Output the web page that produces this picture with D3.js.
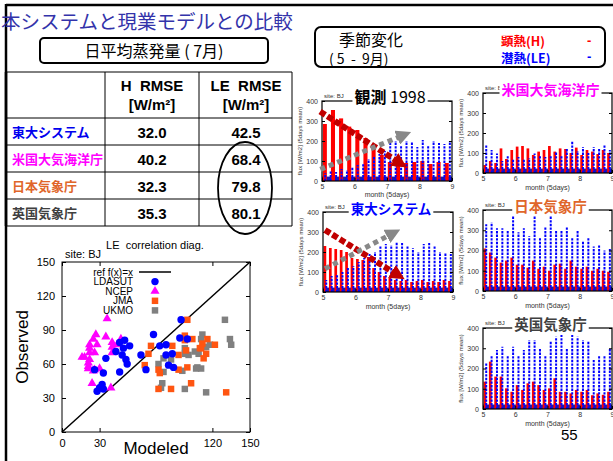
<!DOCTYPE html>
<html>
<head>
<meta charset="utf-8">
<script src="https://cdn.jsdelivr.net/npm/d3@7"></script>
<style>
  body { margin: 0; background: #fff; }
  svg { display: block; }
  text { font-family: "Liberation Sans", Arial, sans-serif; white-space: pre; }
  .jp { font-family: "Noto Sans CJK JP", sans-serif; }
</style>
</head>
<body>
<div class="content"></div>
<script>
// ---- table data ----
const models = ["東大システム", "米国大気海洋庁", "日本気象庁", "英国気象庁"];
const modelColors = ["#0000ee", "#ff00ff", "#e0662a", "#404040"];
const hRmse = [32.0, 40.2, 32.3, 35.3];
const leRmse = [42.5, 68.4, 79.8, 80.1];

// ---- LE correlation diag. (Modeled, Observed) ----
const ldasut = [[95,99],[100,82],[73,86],[78,76],[83,77],[83,68],[88,69],[63,68],[67,55],[85,59],[89,57],[94,83],
  [46,79],[50,81],[54,76],[49,74],[43,71],[48,68],[51,64],[52,60],[46,53],[35,65],[26,55],[33,52],[32,42],[30,39],[33,38],[28,36]];
const ncep = [[36,100],[27,86],[35,84],[25,82],[40,79],[22,77],[28,77],[22,74],[26,70],[22,70],[18,66],[16,66],[22,64],
  [21,61],[21,58],[21,56],[26,55],[25,54],[30,56],[40,70],[40,75],[44,77],[24,43],[39,39],[47,82]];
const jma = [[100,99],[98,85],[104,82],[98,81],[116,82],[122,77],[112,78],[111,74],[115,69],[113,65],[110,74],[71,76],
  [69,69],[66,59],[77,55],[78,52],[88,76],[93,68],[93,55],[100,57],[77,38],[87,38],[103,43],[131,35],[99,72]];
const ukmo = [[130,99],[112,86],[111,82],[134,82],[135,77],[118,77],[113,75],[115,75],[106,71],[109,69],[101,68],[98,74],
  [98,69],[87,64],[81,65],[77,60],[81,53],[96,54],[107,56],[111,56],[108,57],[80,43],[79,39],[98,38],[115,35]];
const scatterXTicks = [0, 30, 120, 150];
const scatterYTicks = [0, 30, 60, 90, 120, 150];
const legendNames = ["ref f(x)=x", "LDASUT", "NCEP", "JMA", "UKMO"];

// ---- seasonal change panels (5-day means, W/m2) ----
const monthTicks = [5, 6, 7, 8, 9];
const fluxTicks = [0, 100, 200, 300, 400];
const obsH = [285, 355, 313, 272, 255, 215, 172, 130, 95, 100, 90, 95, 100, 85, 95, 90];
const obsLE = [40, 50, 45, 60, 55, 70, 80, 90, 110, 120, 135, 150, 190, 200, 180, 200, 195, 170, 205, 180, 200, 190, 185, 200];
const ncepH = [40, 60, 50, 123, 70, 115, 132, 135, 123, 90, 107, 115, 135, 107, 123, 120, 100, 127, 90, 115, 107, 95, 115, 100];
const ncepLE = [140, 115, 98, 60, 90, 70, 80, 70, 75, 98, 90, 80, 90, 107, 90, 120, 157, 110, 130, 100, 130, 125, 140, 115];
const ldasH = [230, 220, 215, 210, 200, 170, 165, 160, 175, 120, 100, 80, 70, 60, 55, 60, 50, 55, 60, 50, 55, 50, 60, 55];
const ldasLE = [60, 80, 90, 100, 120, 130, 150, 170, 190, 200, 230, 240, 235, 250, 245, 230, 220, 200, 240, 245, 230, 200, 195, 190];
const jmaH = [210, 190, 165, 140, 150, 165, 130, 130, 115, 150, 110, 120, 100, 130, 135, 110, 150, 120, 110, 120, 100, 110, 100, 95];
const jmaLE = [330, 340, 310, 310, 300, 370, 290, 310, 270, 370, 260, 320, 370, 300, 300, 320, 260, 300, 250, 260, 220, 230, 200, 210];
const ukmoH = [135, 234, 160, 160, 102, 85, 118, 94, 127, 135, 118, 94, 102, 152, 85, 85, 77, 94, 85, 94, 68, 77, 70, 85];
const ukmoLE = [226, 267, 291, 308, 267, 308, 267, 291, 341, 341, 300, 267, 332, 357, 365, 300, 365, 357, 341, 332, 242, 267, 267, 300];
// trend arrows drawn over the obs and LDASUT panels (month, flux)
const obsTrendH = [[5.02, 339], [7.3, 100]];
const obsTrendLE = [[5.02, 63], [7.4, 222]];
const ldasTrendH = [[5.14, 302], [7.2, 95]];
const ldasTrendLE = [[5.13, 122], [7.05, 285]];

const width = 613, height = 461;
const svg = d3.select(".content").append("svg")
    .attr("width", width)
    .attr("height", height);

// slide frame
svg.append("line").attr("x1", 6).attr("x2", width).attr("y1", 5).attr("y2", 5)
    .attr("stroke", "#000").attr("stroke-width", 2.5);
svg.append("line").attr("x1", 6).attr("x2", 6).attr("y1", 4).attr("y2", height)
    .attr("stroke", "#000").attr("stroke-width", 2.5);

svg.append("text").attr("class", "jp")
    .attr("x", 1).attr("y", 29)
    .attr("font-size", 19.5).attr("fill", "#3333aa")
    .text("本システムと現業モデルとの比較");

svg.append("rect").attr("x", 40).attr("y", 38).attr("width", 228).attr("height", 25).attr("rx", 4)
    .attr("fill", "none").attr("stroke", "#000").attr("stroke-width", 2);
svg.append("text").attr("class", "jp")
    .attr("x", 154).attr("y", 57).attr("text-anchor", "middle")
    .attr("font-size", 16).text("日平均蒸発量 ( 7月)");

// ---- table ----
const colX = [6, 105, 199, 292];
const rowScale = d3.scaleBand().domain(models).range([118, 226]);
const tbl = svg.append("g");
[72, 118, 145, 172, 199, 226].forEach(yy => {
    tbl.append("line").attr("x1", 6).attr("x2", 292).attr("y1", yy).attr("y2", yy)
        .attr("stroke", "#000").attr("stroke-width", 1);
});
colX.forEach(xx => {
    tbl.append("line").attr("x1", xx).attr("x2", xx).attr("y1", 72).attr("y2", 226)
        .attr("stroke", "#000").attr("stroke-width", xx === 6 ? 2.5 : 1);
});
[["H  RMSE", 152], ["LE  RMSE", 246]].forEach(h => {
    tbl.append("text").attr("x", h[1]).attr("y", 91).attr("text-anchor", "middle")
        .attr("font-size", 15).attr("font-weight", "bold").text(h[0]);
    tbl.append("text").attr("x", h[1]).attr("y", 110).attr("text-anchor", "middle")
        .attr("font-size", 15).attr("font-weight", "bold").text("[W/m²]");
});
models.forEach((m, i) => {
    const yc = rowScale(m) + rowScale.bandwidth() / 2 + 5;
    tbl.append("text").attr("class", "jp").attr("x", 12).attr("y", yc)
        .attr("font-size", 13).attr("font-weight", "bold").attr("fill", modelColors[i]).text(m);
    tbl.append("text").attr("x", 152).attr("y", yc + 1).attr("text-anchor", "middle")
        .attr("font-size", 15).attr("font-weight", "bold").text(hRmse[i].toFixed(1));
    tbl.append("text").attr("x", 246).attr("y", yc + 1).attr("text-anchor", "middle")
        .attr("font-size", 15).attr("font-weight", "bold").text(leRmse[i].toFixed(1));
});
tbl.append("ellipse").attr("cx", 245).attr("cy", 188).attr("rx", 27).attr("ry", 46)
    .attr("fill", "none").attr("stroke", "#000").attr("stroke-width", 1.8);

// ---- scatter ----
const xSc = d3.scaleLinear().domain([0, 150]).range([62, 250]);
const ySc = d3.scaleLinear().domain([0, 150]).range([432, 262]);
const sc = svg.append("g");
sc.append("rect").attr("x", 62).attr("y", 262).attr("width", 188).attr("height", 170)
    .attr("fill", "none").attr("stroke", "#000").attr("stroke-width", 1);
sc.append("g").attr("transform", "translate(0,432)")
    .call(d3.axisBottom(xSc).tickValues(scatterXTicks).tickSizeInner(-4).tickSizeOuter(0).tickPadding(7))
    .call(g => g.select(".domain").remove())
    .call(g => g.selectAll("text").attr("font-size", 11).attr("font-family", "Liberation Sans"));
sc.append("g").attr("transform", "translate(0,262)")
    .call(d3.axisTop(xSc).tickValues(scatterXTicks).tickSizeInner(-4).tickSizeOuter(0).tickFormat(""))
    .call(g => g.select(".domain").remove());
sc.append("g").attr("transform", "translate(62,0)")
    .call(d3.axisLeft(ySc).tickValues(scatterYTicks).tickSizeInner(-4).tickSizeOuter(0).tickPadding(7))
    .call(g => g.select(".domain").remove())
    .call(g => g.selectAll("text").attr("font-size", 11).attr("font-family", "Liberation Sans"));
sc.append("g").attr("transform", "translate(250,0)")
    .call(d3.axisRight(ySc).tickValues(scatterYTicks).tickSizeInner(-4).tickSizeOuter(0).tickFormat(""))
    .call(g => g.select(".domain").remove());

sc.append("line").attr("x1", xSc(0)).attr("y1", ySc(0)).attr("x2", xSc(150)).attr("y2", ySc(150))
    .attr("stroke", "#000").attr("stroke-width", 1.5);

const sqr = d3.symbol(d3.symbolSquare).size(42);
const tri = d3.symbol(d3.symbolTriangle).size(36);
sc.selectAll(".ukmo").data(ukmo).enter().append("path").attr("class", "ukmo")
    .attr("d", sqr).attr("transform", d => `translate(${xSc(d[0])},${ySc(d[1])})`).attr("fill", "#808080");
sc.selectAll(".jma").data(jma).enter().append("path").attr("class", "jma")
    .attr("d", sqr).attr("transform", d => `translate(${xSc(d[0])},${ySc(d[1])})`).attr("fill", "#ff5511");
sc.selectAll(".ncep").data(ncep).enter().append("path").attr("class", "ncep")
    .attr("d", tri).attr("transform", d => `translate(${xSc(d[0])},${ySc(d[1])})`).attr("fill", "#ff00ff");
sc.selectAll(".ldasut").data(ldasut).enter().append("circle").attr("class", "ldasut")
    .attr("cx", d => xSc(d[0])).attr("cy", d => ySc(d[1])).attr("r", 3.7).attr("fill", "#0000ff");

// legend
legendNames.forEach((n, i) => {
    const ly = 272 + i * 9.6;
    sc.append("text").attr("x", 133).attr("y", ly + 3.5).attr("text-anchor", "end")
        .attr("font-size", 10).text(n);
    if (i === 0) {
        sc.append("line").attr("x1", 139).attr("x2", 171).attr("y1", ly).attr("y2", ly)
            .attr("stroke", "#000").attr("stroke-width", 1.5);
    } else if (i === 1) {
        sc.append("circle").attr("cx", 155).attr("cy", ly).attr("r", 3.7).attr("fill", "#0000ff");
    } else {
        sc.append("path").attr("d", i === 2 ? tri : sqr)
            .attr("transform", `translate(155,${ly})`)
            .attr("fill", ["#ff00ff", "#ff5511", "#808080"][i - 2]);
    }
});
sc.append("text").attr("x", 155).attr("y", 249).attr("text-anchor", "middle").attr("font-size", 11)
    .text("LE  correlation diag.");
sc.append("text").attr("x", 65).attr("y", 258).attr("font-size", 11).text("site: BJ");
sc.append("text").attr("transform", "translate(28,347) rotate(-90)").attr("text-anchor", "middle")
    .attr("font-size", 17).text("Observed");
sc.append("text").attr("x", 156).attr("y", 454).attr("text-anchor", "middle")
    .attr("font-size", 17).text("Modeled");

// ---- seasonal header box ----
svg.append("rect").attr("x", 315).attr("y", 27).attr("width", 290).attr("height", 40).attr("rx", 6)
    .attr("fill", "none").attr("stroke", "#000").attr("stroke-width", 2);
svg.append("text").attr("class", "jp").attr("x", 339).attr("y", 46).attr("font-size", 16).text("季節変化");
svg.append("text").attr("class", "jp").attr("x", 329).attr("y", 64).attr("font-size", 14).text("( 5  -  9月)");
svg.append("text").attr("class", "jp").attr("x", 501).attr("y", 46).attr("font-size", 12.5)
    .attr("font-weight", "bold").attr("fill", "#ff0000").text("顕熱(H)");
svg.append("text").attr("class", "jp").attr("x", 501).attr("y", 63).attr("font-size", 12.5)
    .attr("font-weight", "bold").attr("fill", "#0000ff").text("潜熱(LE)");
svg.append("text").attr("x", 587).attr("y", 45).attr("font-size", 13).attr("font-weight", "bold")
    .attr("fill", "#ff0000").text("-");
svg.append("text").attr("x", 587).attr("y", 61).attr("font-size", 13).attr("font-weight", "bold")
    .attr("fill", "#0000ff").text("-");

// arrow heads
const defs = svg.append("defs");
[["headRed", "#c00000"], ["headGray", "#888"]].forEach(m => {
    defs.append("marker").attr("id", m[0]).attr("viewBox", "0 -5 10 10")
        .attr("refX", 2).attr("refY", 0)
        .attr("markerWidth", 15).attr("markerHeight", 15)
        .attr("markerUnits", "userSpaceOnUse").attr("orient", "auto")
        .append("path").attr("d", "M0,-5L10,0L0,5Z").attr("fill", m[1]);
});

const panels = [
    { title: "観測", extra: " 1998", color: "#000", fs: 16, h: obsH, le: obsLE, x0: 322, x1: 452, y0: 101, y1: 181, lab: 16, trend: [obsTrendH, obsTrendLE] },
    { title: "米国大気海洋庁", color: "#ff00ff", fs: 14, h: ncepH, le: ncepLE, x0: 483, x1: 612, y0: 93, y1: 173, lab: 17 },
    { title: "東大システム", color: "#0000ff", fs: 13.5, h: ldasH, le: ldasLE, x0: 323, x1: 453, y0: 212, y1: 292, lab: 17, trend: [ldasTrendH, ldasTrendLE] },
    { title: "日本気象庁", color: "#e0662a", fs: 14.5, h: jmaH, le: jmaLE, x0: 483, x1: 612, y0: 210, y1: 291, lab: 17 },
    { title: "英国気象庁", color: "#404040", fs: 14.5, h: ukmoH, le: ukmoLE, x0: 483, x1: 612, y0: 328, y1: 409, lab: 17 }
];

panels.forEach(p => {
    const x = d3.scaleLinear().domain([5, 9]).range([p.x0, p.x1]);
    const y = d3.scaleLinear().domain([0, 400]).range([p.y1, p.y0]);
    const g = svg.append("g");
    const bh = d3.scaleBand().domain(d3.range(p.h.length)).range([p.x0, p.x1]);
    const bl = d3.scaleBand().domain(d3.range(p.le.length)).range([p.x0, p.x1]);

    // night-time floor of the 5-day cycles
    g.append("rect").attr("x", p.x0).attr("y", y(22)).attr("width", p.x1 - p.x0).attr("height", y(0) - y(22))
        .attr("fill", "#1a1ab0");

    g.selectAll(".h").data(p.h).enter().append("rect").attr("class", "h")
        .attr("x", (d, i) => bh(i) + bh.bandwidth() * 0.1)
        .attr("y", d => y(d))
        .attr("width", bh.bandwidth() * 0.5)
        .attr("height", d => y(0) - y(d))
        .attr("fill", "#ff0000");
    g.selectAll(".le").data(p.le).enter().append("line").attr("class", "le")
        .attr("x1", (d, i) => bl(i) + bl.bandwidth() * 0.6)
        .attr("x2", (d, i) => bl(i) + bl.bandwidth() * 0.6)
        .attr("y1", y(0)).attr("y2", d => y(d))
        .attr("stroke", "#0000ff").attr("stroke-width", 2)
        .attr("stroke-dasharray", "2.4 1.2");

    g.append("rect").attr("x", p.x0).attr("y", p.y0).attr("width", p.x1 - p.x0).attr("height", p.y1 - p.y0)
        .attr("fill", "none").attr("stroke", "#000").attr("stroke-width", 1.2);

    g.append("g").attr("transform", `translate(0,${p.y1})`)
        .call(d3.axisBottom(x).tickValues(monthTicks).tickFormat(d3.format("d")).tickSizeInner(-3).tickSizeOuter(0).tickPadding(3))
        .call(a => a.select(".domain").remove())
        .call(a => a.selectAll("text").attr("font-size", 7).attr("fill", "#333").attr("font-family", "Liberation Sans"));
    g.append("g").attr("transform", `translate(${p.x0},0)`)
        .call(d3.axisLeft(y).tickValues(fluxTicks).tickSizeInner(-3).tickSizeOuter(0).tickPadding(4))
        .call(a => a.select(".domain").remove())
        .call(a => a.selectAll("text").attr("font-size", 7).attr("fill", "#333").attr("font-family", "Liberation Sans"));
    g.append("g").attr("transform", `translate(${p.x1},0)`)
        .call(d3.axisRight(y).tickValues(fluxTicks).tickSizeInner(-3).tickSizeOuter(0).tickFormat(""))
        .call(a => a.select(".domain").remove());

    g.append("text").attr("x", (p.x0 + p.x1) / 2).attr("y", p.y1 + p.lab).attr("text-anchor", "middle")
        .attr("font-size", 7).attr("fill", "#333").text("month (5days)");
    g.append("text").attr("transform", `translate(${p.x0 - 20},${(p.y0 + p.y1) / 2}) rotate(-90)`)
        .attr("text-anchor", "middle").attr("font-size", 6).attr("fill", "#333").text("flux [W/m2] (5days mean)");
    g.append("text").attr("x", p.x0 + 2).attr("y", p.y0 - 3).attr("font-size", 6).attr("fill", "#333").text("site: BJ");

    if (p.trend) {
        const line = d3.line().x(d => x(d[0])).y(d => y(d[1]));
        g.append("path").attr("d", line(p.trend[0])).attr("fill", "none")
            .attr("stroke", "#c00000").attr("stroke-width", 6).attr("stroke-linecap", "square")
            .attr("stroke-dasharray", "0.1 8.6").attr("marker-end", "url(#headRed)");
        g.append("path").attr("d", line(p.trend[1])).attr("fill", "none")
            .attr("stroke", "#888").attr("stroke-width", 5).attr("stroke-linecap", "square")
            .attr("stroke-dasharray", "0.1 9").attr("marker-end", "url(#headGray)");
    }

    // title on a white patch over the top border
    const tt = g.append("text").attr("class", "jp").attr("x", (p.x0 + p.x1) / 2 + 3).attr("y", p.y0 + 2)
        .attr("text-anchor", "middle").attr("font-size", p.fs).attr("font-weight", "bold").attr("fill", p.color);
    tt.append("tspan").text(p.title);
    if (p.extra) tt.append("tspan").attr("font-weight", "normal").text(p.extra);
    const bb = tt.node().getBBox();
    g.insert("rect", "text.jp").attr("x", bb.x - 2).attr("y", bb.y + 1).attr("width", bb.width + 4).attr("height", bb.height - 2)
        .attr("fill", "#fff");
});

svg.append("text").attr("x", 561).attr("y", 440).attr("font-size", 15).text("55");
</script>
</body>
</html>
